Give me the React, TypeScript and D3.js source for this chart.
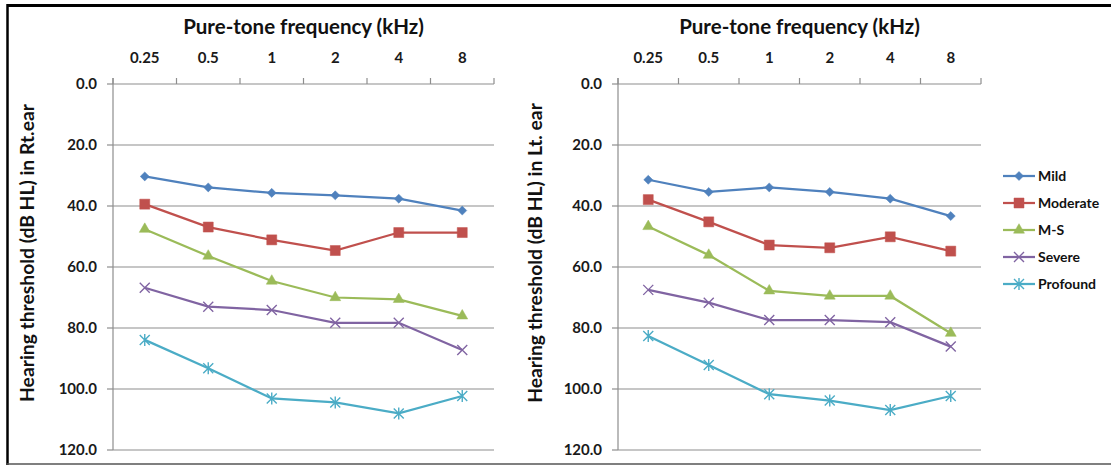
import React, { useEffect, useRef } from 'react';
import * as d3 from 'd3';

// frequencies (kHz) shown on the top axis
const frequencies = ['0.25', '0.5', '1', '2', '4', '8'];
const yTicks = [0, 20, 40, 60, 80, 100, 120];

const seriesNames = ['Mild', 'Moderate', 'M-S', 'Severe', 'Profound'];
const seriesColors = ['#4F81BD', '#C0504D', '#9BBB59', '#8064A2', '#4BACC6'];
const seriesMarkers = ['diamond', 'square', 'triangle', 'times', 'star'];

// right ear thresholds (dB HL)
const rtMild = [30.3, 33.9, 35.7, 36.5, 37.6, 41.5];
const rtModerate = [39.4, 46.9, 51.1, 54.6, 48.7, 48.7];
const rtMS = [47.6, 56.4, 64.6, 70.0, 70.6, 76.0];
const rtSevere = [66.8, 73.0, 74.1, 78.3, 78.3, 87.2];
const rtProfound = [83.9, 93.2, 103.1, 104.4, 108.0, 102.3];

// left ear thresholds (dB HL)
const ltMild = [31.4, 35.4, 33.9, 35.4, 37.6, 43.3];
const ltModerate = [37.9, 45.2, 52.8, 53.7, 50.1, 54.8];
const ltMS = [46.7, 56.1, 67.8, 69.5, 69.5, 81.7];
const ltSevere = [67.5, 71.7, 77.4, 77.4, 78.1, 86.1];
const ltProfound = [82.6, 92.1, 101.7, 103.8, 106.9, 102.3];

const FONT = 'Lato, "DejaVu Sans", sans-serif';
const AXIS_COLOR = '#8E8E8E';

const markerPath = (kind: string) => {
  if (kind === 'diamond') return d3.symbol(d3.symbolDiamond2, 52)();
  if (kind === 'square') return d3.symbol(d3.symbolSquare, 100)();
  if (kind === 'triangle') return d3.symbol(d3.symbolTriangle, 52)();
  const r = 5;
  if (kind === 'times') return `M${-r},${-r}L${r},${r}M${-r},${r}L${r},${-r}`;
  return `M${-r},${-r}L${r},${r}M${-r},${r}L${r},${-r}M0,${-r - 1}L0,${r + 1}`;
};

const drawMarker = (g: any, kind: string, color: string, x: number, y: number) => {
  const filled = kind === 'diamond' || kind === 'square' || kind === 'triangle';
  g.append('path')
    .attr('d', markerPath(kind))
    .attr('transform', `translate(${x},${y})`)
    .attr('fill', filled ? color : 'none')
    .attr('stroke', color)
    .attr('stroke-width', filled ? 0.5 : 1.4);
};

const drawPanel = (svg: any, opts: any) => {
  const { left, right, top, bottom, yTitle, yTitleX, data } = opts;

  const x = d3.scaleBand().domain(frequencies).range([left, right]);
  const y = d3.scaleLinear().domain([0, 120]).range([top, bottom]);

  const g = svg.append('g');

  // gridlines
  g.selectAll('.grid')
    .data(yTicks.slice(1))
    .join('line')
    .attr('x1', left)
    .attr('x2', right)
    .attr('y1', (d: number) => y(d))
    .attr('y2', (d: number) => y(d))
    .attr('stroke', AXIS_COLOR)
    .attr('stroke-width', 1.2);

  // y axis line + ticks
  g.append('line')
    .attr('x1', left).attr('x2', left)
    .attr('y1', top - 6).attr('y2', bottom)
    .attr('stroke', AXIS_COLOR).attr('stroke-width', 1.2);
  g.selectAll('.ytick')
    .data(yTicks)
    .join('line')
    .attr('x1', left - 6).attr('x2', left)
    .attr('y1', (d: number) => y(d)).attr('y2', (d: number) => y(d))
    .attr('stroke', AXIS_COLOR).attr('stroke-width', 1.2);
  g.selectAll('.ylabel')
    .data(yTicks)
    .join('text')
    .attr('x', left - 16)
    .attr('y', (d: number) => y(d))
    .attr('dy', '0.35em')
    .attr('text-anchor', 'end')
    .style('font-family', FONT)
    .style('font-weight', 'bold')
    .style('font-size', '15px')
    .style('fill', '#1a1a1a')
    .text((d: number) => d.toFixed(1));

  // top (category) axis
  g.append('line')
    .attr('x1', left).attr('x2', right)
    .attr('y1', top).attr('y2', top)
    .attr('stroke', AXIS_COLOR).attr('stroke-width', 1.2);
  const bounds = frequencies.map(f => x(f) as number).concat([right]);
  g.selectAll('.xtick')
    .data(bounds)
    .join('line')
    .attr('x1', (d: number) => d).attr('x2', (d: number) => d)
    .attr('y1', top - 6).attr('y2', top)
    .attr('stroke', AXIS_COLOR).attr('stroke-width', 1.2);
  g.selectAll('.xlabel')
    .data(frequencies)
    .join('text')
    .attr('x', (d: string) => (x(d) as number) + x.bandwidth() / 2)
    .attr('y', 63)
    .attr('text-anchor', 'middle')
    .style('font-family', FONT)
    .style('font-weight', 'bold')
    .style('font-size', '15px')
    .style('fill', '#1a1a1a')
    .text((d: string) => d);

  // titles
  g.append('text')
    .attr('x', (left + right) / 2)
    .attr('y', 34)
    .attr('text-anchor', 'middle')
    .style('font-family', FONT)
    .style('font-weight', 'bold')
    .style('font-size', '20.5px')
    .style('fill', '#111')
    .text('Pure-tone frequency (kHz)');
  g.append('text')
    .attr('transform', `translate(${yTitleX},253) rotate(-90)`)
    .attr('text-anchor', 'middle')
    .style('font-family', FONT)
    .style('font-weight', 'bold')
    .style('font-size', '19.3px')
    .style('fill', '#111')
    .text(yTitle);

  // series
  const line = d3.line<number>()
    .x((_d, i) => (x(frequencies[i]) as number) + x.bandwidth() / 2)
    .y(d => y(d));

  data.forEach((vals: number[], si: number) => {
    g.append('path')
      .attr('d', line(vals))
      .attr('fill', 'none')
      .attr('stroke', seriesColors[si])
      .attr('stroke-width', 2.25);
    vals.forEach((v, i) => {
      drawMarker(g, seriesMarkers[si], seriesColors[si],
        (x(frequencies[i]) as number) + x.bandwidth() / 2, y(v));
    });
  });
};

const App = () => {
  const svgRef = useRef<SVGSVGElement>(null);

  useEffect(() => {
    if (!svgRef.current) return;
    const svg = d3.select(svgRef.current);
    svg.selectAll('*').remove();

    svg.append('rect').attr('width', 1111).attr('height', 465).attr('fill', '#fff');

    // frame
    svg.append('line').attr('x1', 7).attr('x2', 1111).attr('y1', 5.5).attr('y2', 5.5)
      .attr('stroke', '#000').attr('stroke-width', 3);
    svg.append('line').attr('x1', 7.5).attr('x2', 7.5).attr('y1', 4).attr('y2', 465)
      .attr('stroke', '#000').attr('stroke-width', 2.5);
    svg.append('line').attr('x1', 7).attr('x2', 1111).attr('y1', 464).attr('y2', 464)
      .attr('stroke', '#555').attr('stroke-width', 1.5);

    drawPanel(svg, {
      left: 113, right: 494, top: 84, bottom: 450,
      yTitle: 'Hearing threshold (dB HL) in Rt.ear', yTitleX: 34,
      data: [rtMild, rtModerate, rtMS, rtSevere, rtProfound],
    });
    drawPanel(svg, {
      left: 618, right: 981, top: 84, bottom: 450,
      yTitle: 'Hearing threshold (dB HL) in Lt. ear', yTitleX: 542,
      data: [ltMild, ltModerate, ltMS, ltSevere, ltProfound],
    });

    // legend
    const legend = svg.append('g');
    seriesNames.forEach((name, i) => {
      const ly = 176 + i * 27;
      legend.append('line')
        .attr('x1', 1003).attr('x2', 1035).attr('y1', ly).attr('y2', ly)
        .attr('stroke', seriesColors[i]).attr('stroke-width', 2.25);
      drawMarker(legend, seriesMarkers[i], seriesColors[i], 1019, ly);
      legend.append('text')
        .attr('x', 1038).attr('y', ly).attr('dy', '0.35em')
        .style('font-family', FONT)
        .style('font-weight', 'bold')
        .style('font-size', '14px')
        .style('fill', '#111')
        .text(name);
    });
  }, []);

  return (
    <svg
      ref={svgRef}
      width={1111}
      height={465}
      style={{ position: 'absolute', left: 0, top: 0, display: 'block' }}
    />
  );
};

export default App;
